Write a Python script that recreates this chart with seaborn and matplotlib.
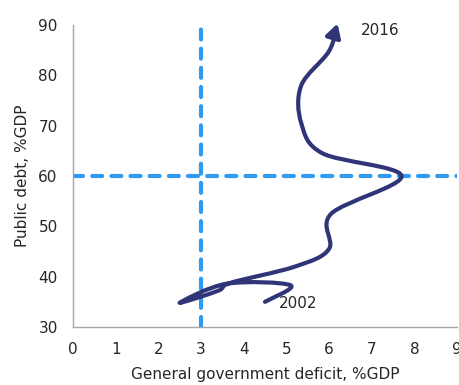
import numpy as np
import matplotlib
matplotlib.use("Agg")
import matplotlib.pyplot as plt
import seaborn as sns
from matplotlib.path import Path
from matplotlib.patches import FancyArrowPatch

# Data (2002-2016)
years = list(range(2002, 2017))
deficit = [4.5, 5.1, 3.6, 2.5, 3.4, 3.7, 5.2, 6.0, 6.05, 7.7, 5.85, 5.35, 5.35, 6.0, 6.2]
debt = [35.0, 38.3, 38.6, 34.8, 37.2, 38.8, 42.0, 45.5, 52.5, 60.0, 64.5, 70.5, 78.0, 84.8, 90.3]
ref_deficit = 3
ref_debt = 60

sns.set_style("white")
plt.rcParams["font.family"] = ["DejaVu Sans"]

fig = plt.figure(figsize=(4.59, 3.85), dpi=100)
ax = fig.add_axes([0.159, 0.1506, 0.8366, 0.7844])

# smooth line like Excel (catmull-rom as cubic bezier)
pts = np.column_stack([deficit, debt])
verts = [pts[0]]
codes = [Path.MOVETO]
n = len(pts)
for i in range(n - 1):
    p0 = pts[max(i - 1, 0)]
    p1 = pts[i]
    p2 = pts[i + 1]
    p3 = pts[min(i + 2, n - 1)]
    c1 = p1 + (p2 - p0) / 6
    c2 = p2 - (p3 - p1) / 6
    verts += [c1, c2, p2]
    codes += [Path.CURVE4] * 3
curve = Path(np.array(verts), codes)
arrow = FancyArrowPatch(path=curve, arrowstyle="-|>,head_length=8,head_width=4.5",
                        color="#2F3577", lw=3.0, mutation_scale=1, zorder=3)
ax.add_patch(arrow)

dash_col = "#2E9AF2"
ax.axvline(ref_deficit, color=dash_col, lw=3, ls=(0, (2.4, 2.2)), dash_capstyle="round", zorder=2)
ax.axhline(ref_debt, color=dash_col, lw=3, ls=(0, (2.4, 2.2)), dash_capstyle="round", zorder=2)

ax.text(5.27, 34.6, "2002", fontsize=11, ha="center", va="center")
ax.text(7.2, 89.0, "2016", fontsize=11, ha="center", va="center")

ax.set_xlim(0, 9)
ax.set_ylim(30, 90)
ax.set_xticks(range(0, 10))
ax.set_yticks(range(30, 91, 10))
ax.tick_params(labelsize=11, length=0, pad=11)
ax.set_xlabel("General government deficit, %GDP", fontsize=11, labelpad=7)
ax.set_ylabel("Public debt, %GDP", fontsize=11, labelpad=6)
sns.despine(ax=ax)
for s in ["left", "bottom"]:
    ax.spines[s].set_color("#A6A6A6")
    ax.spines[s].set_linewidth(1)

fig.savefig("out.png", dpi=100)
